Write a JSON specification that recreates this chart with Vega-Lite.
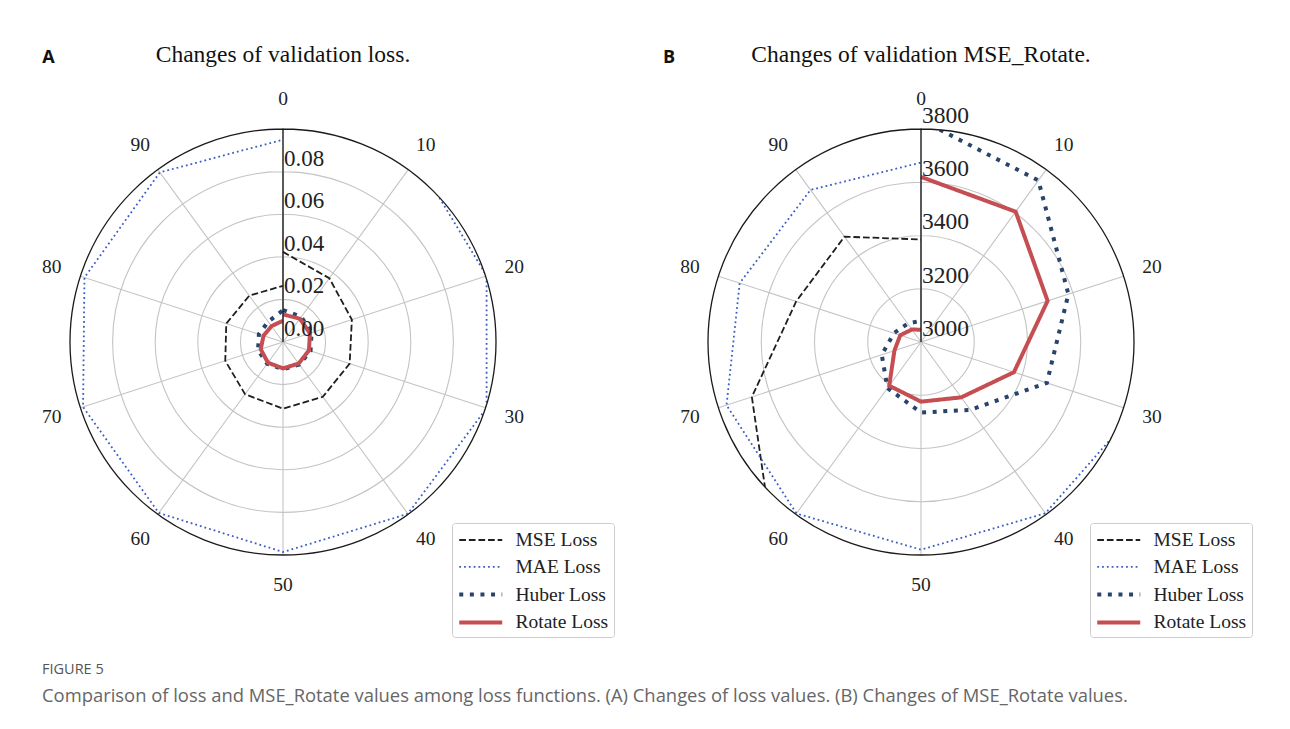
{
  "$schema": "https://vega.github.io/schema/vega-lite/v6.json",
  "background": "white",
  "padding": {"left": 3, "top": 43, "right": 5, "bottom": 5},
  "bounds": "flush",
  "spacing": 78,
  "config": {"view": {"stroke": null}},
  "title": {
    "text": "FIGURE 5",
    "subtitle": "Comparison of loss and MSE_Rotate values among loss functions. (A) Changes of loss values. (B) Changes of MSE_Rotate values.",
    "orient": "bottom", "anchor": "start", "dx": 39, "offset": 25,
    "font": "Open Sans", "fontSize": 14.5, "fontWeight": "normal", "color": "#555555",
    "subtitleFont": "Open Sans", "subtitleFontSize": 18.4, "subtitleColor": "#666666", "subtitlePadding": 10
  },
  "resolve": {"scale": {"color": "independent", "strokeDash": "independent", "strokeWidth": "independent", "radius": "independent", "theta": "independent"}},
  "datasets": {
    "lossA": [
      {"series": "MSE Loss", "epoch": 0, "value": 0.0423},
      {"series": "MSE Loss", "epoch": 10, "value": 0.0370},
      {"series": "MSE Loss", "epoch": 20, "value": 0.0340},
      {"series": "MSE Loss", "epoch": 30, "value": 0.0329},
      {"series": "MSE Loss", "epoch": 40, "value": 0.0318},
      {"series": "MSE Loss", "epoch": 50, "value": 0.0313},
      {"series": "MSE Loss", "epoch": 60, "value": 0.0303},
      {"series": "MSE Loss", "epoch": 70, "value": 0.0285},
      {"series": "MSE Loss", "epoch": 80, "value": 0.0280},
      {"series": "MSE Loss", "epoch": 90, "value": 0.0269},
      {"series": "MSE Loss", "epoch": 100, "value": 0.0264},
      {"series": "MAE Loss", "epoch": 0, "value": 0.115},
      {"series": "MAE Loss", "epoch": 10, "value": 0.1062},
      {"series": "MAE Loss", "epoch": 20, "value": 0.1005},
      {"series": "MAE Loss", "epoch": 30, "value": 0.1005},
      {"series": "MAE Loss", "epoch": 40, "value": 0.0997},
      {"series": "MAE Loss", "epoch": 50, "value": 0.0986},
      {"series": "MAE Loss", "epoch": 60, "value": 0.0992},
      {"series": "MAE Loss", "epoch": 70, "value": 0.0987},
      {"series": "MAE Loss", "epoch": 80, "value": 0.0980},
      {"series": "MAE Loss", "epoch": 90, "value": 0.0984},
      {"series": "MAE Loss", "epoch": 100, "value": 0.0950},
      {"series": "Huber Loss", "epoch": 0, "value": 0.0150},
      {"series": "Huber Loss", "epoch": 10, "value": 0.0146},
      {"series": "Huber Loss", "epoch": 20, "value": 0.0141},
      {"series": "Huber Loss", "epoch": 30, "value": 0.0136},
      {"series": "Huber Loss", "epoch": 40, "value": 0.0131},
      {"series": "Huber Loss", "epoch": 50, "value": 0.0128},
      {"series": "Huber Loss", "epoch": 60, "value": 0.0126},
      {"series": "Huber Loss", "epoch": 70, "value": 0.0123},
      {"series": "Huber Loss", "epoch": 80, "value": 0.0119},
      {"series": "Huber Loss", "epoch": 90, "value": 0.0118},
      {"series": "Huber Loss", "epoch": 100, "value": 0.0149},
      {"series": "Rotate Loss", "epoch": 0, "value": 0.0130},
      {"series": "Rotate Loss", "epoch": 10, "value": 0.0135},
      {"series": "Rotate Loss", "epoch": 20, "value": 0.0133},
      {"series": "Rotate Loss", "epoch": 30, "value": 0.0128},
      {"series": "Rotate Loss", "epoch": 40, "value": 0.0125},
      {"series": "Rotate Loss", "epoch": 50, "value": 0.0124},
      {"series": "Rotate Loss", "epoch": 60, "value": 0.0120},
      {"series": "Rotate Loss", "epoch": 70, "value": 0.0110},
      {"series": "Rotate Loss", "epoch": 80, "value": 0.0096},
      {"series": "Rotate Loss", "epoch": 90, "value": 0.0092},
      {"series": "Rotate Loss", "epoch": 100, "value": 0.0100}
    ],
    "lossB": [
      {"series": "MSE Loss", "epoch": 0, "value": 4000},
      {"series": "MSE Loss", "epoch": 10, "value": 4000},
      {"series": "MSE Loss", "epoch": 20, "value": 4000},
      {"series": "MSE Loss", "epoch": 30, "value": 3990},
      {"series": "MSE Loss", "epoch": 40, "value": 3975},
      {"series": "MSE Loss", "epoch": 50, "value": 3960},
      {"series": "MSE Loss", "epoch": 60, "value": 3943},
      {"series": "MSE Loss", "epoch": 70, "value": 3668},
      {"series": "MSE Loss", "epoch": 80, "value": 3493},
      {"series": "MSE Loss", "epoch": 90, "value": 3489},
      {"series": "MSE Loss", "epoch": 100, "value": 3385},
      {"series": "MAE Loss", "epoch": 0, "value": 3950},
      {"series": "MAE Loss", "epoch": 10, "value": 3930},
      {"series": "MAE Loss", "epoch": 20, "value": 3900},
      {"series": "MAE Loss", "epoch": 30, "value": 3845},
      {"series": "MAE Loss", "epoch": 40, "value": 3795},
      {"series": "MAE Loss", "epoch": 50, "value": 3780},
      {"series": "MAE Loss", "epoch": 60, "value": 3796},
      {"series": "MAE Loss", "epoch": 70, "value": 3768},
      {"series": "MAE Loss", "epoch": 80, "value": 3716},
      {"series": "MAE Loss", "epoch": 90, "value": 3706},
      {"series": "MAE Loss", "epoch": 100, "value": 3674},
      {"series": "Huber Loss", "epoch": 0, "value": 3834},
      {"series": "Huber Loss", "epoch": 10, "value": 3750},
      {"series": "Huber Loss", "epoch": 20, "value": 3582},
      {"series": "Huber Loss", "epoch": 30, "value": 3497},
      {"series": "Huber Loss", "epoch": 40, "value": 3315},
      {"series": "Huber Loss", "epoch": 50, "value": 3265},
      {"series": "Huber Loss", "epoch": 60, "value": 3214},
      {"series": "Huber Loss", "epoch": 70, "value": 3155},
      {"series": "Huber Loss", "epoch": 80, "value": 3107},
      {"series": "Huber Loss", "epoch": 90, "value": 3085},
      {"series": "Huber Loss", "epoch": 100, "value": 3080},
      {"series": "Rotate Loss", "epoch": 0, "value": 3620},
      {"series": "Rotate Loss", "epoch": 10, "value": 3605},
      {"series": "Rotate Loss", "epoch": 20, "value": 3500},
      {"series": "Rotate Loss", "epoch": 30, "value": 3367},
      {"series": "Rotate Loss", "epoch": 40, "value": 3257},
      {"series": "Rotate Loss", "epoch": 50, "value": 3224},
      {"series": "Rotate Loss", "epoch": 60, "value": 3203},
      {"series": "Rotate Loss", "epoch": 70, "value": 3105},
      {"series": "Rotate Loss", "epoch": 80, "value": 3082},
      {"series": "Rotate Loss", "epoch": 90, "value": 3058},
      {"series": "Rotate Loss", "epoch": 100, "value": 3046}
    ],
    "thetaLabels": [
      {"e": 0, "t": "0"}, {"e": 10, "t": "10"}, {"e": 20, "t": "20"}, {"e": 30, "t": "30"}, {"e": 40, "t": "40"},
      {"e": 50, "t": "50"}, {"e": 60, "t": "60"}, {"e": 70, "t": "70"}, {"e": 80, "t": "80"}, {"e": 90, "t": "90"}
    ]
  },
  "hconcat": [
    {
      "width": 560, "height": 560,
      "title": {"text": "Changes of validation loss.", "font": "Liberation Serif", "fontSize": 23.5, "fontWeight": "normal", "color": "#111111", "anchor": "middle", "baseline": "alphabetic", "offset": -36.3},
      "layer": [
        {
          "data": {"values": [{"r": 0.02}, {"r": 0.04}, {"r": 0.06}, {"r": 0.08}]},
          "mark": {"type": "arc", "filled": false, "stroke": "#c4c4c4", "strokeWidth": 1.1},
          "encoding": {
            "theta": {"datum": 0, "type": "quantitative", "stack": null, "scale": {"type": "linear", "domain": [0, 100], "range": [0, 6.283185307]}},
            "theta2": {"datum": 100},
            "radius": {"field": "r", "type": "quantitative", "stack": null, "scale": {"type": "linear", "domain": [0, 0.131455], "range": [0, 280], "zero": true}}
          }
        },
        {
          "data": {"name": "thetaLabels"},
          "mark": {"type": "arc", "filled": false, "stroke": "#c4c4c4", "strokeWidth": 1.1},
          "encoding": {
            "theta": {"field": "e", "type": "quantitative", "stack": null, "scale": {"type": "linear", "domain": [0, 100], "range": [0, 6.283185307]}},
            "theta2": {"field": "e"},
            "radius": {"datum": 0.1, "type": "quantitative", "stack": null, "scale": {"type": "linear", "domain": [0, 0.131455], "range": [0, 280], "zero": true}}
          }
        },
        {
          "data": {"name": "lossA"},
          "transform": [
            {"calculate": "datum.value*sin(datum.epoch/100*2*PI)", "as": "px"},
            {"calculate": "datum.value*cos(datum.epoch/100*2*PI)", "as": "py"}
          ],
          "mark": {"type": "line", "strokeCap": "butt"},
          "encoding": {
            "x": {"field": "px", "type": "quantitative", "scale": {"domain": [-0.131455, 0.131455], "nice": false, "zero": false}, "axis": null},
            "y": {"field": "py", "type": "quantitative", "scale": {"domain": [-0.131455, 0.131455], "nice": false, "zero": false}, "axis": null},
            "order": {"field": "epoch", "type": "quantitative"},
            "color": {
              "field": "series", "type": "nominal",
              "scale": {"domain": ["MSE Loss", "MAE Loss", "Huber Loss", "Rotate Loss"], "range": ["#1f1f1f", "#3a5ec4", "#28446b", "#c44e52"]},
              "legend": {"orient": "none", "legendX": 449, "legendY": 461, "title": null, "symbolType": "M-1,0H3", "symbolSize": 462, "labelFont": "Liberation Serif", "labelFontSize": 19.5, "labelColor": "#222222", "labelOffset": 32.5, "strokeColor": "#cccccc", "fillColor": "white", "cornerRadius": 3, "padding": 5, "rowPadding": 4.8}
            },
            "strokeDash": {
              "field": "series", "type": "nominal",
              "scale": {"domain": ["MSE Loss", "MAE Loss", "Huber Loss", "Rotate Loss"], "range": [[6.7, 2.9], [1.8, 3], [4, 6.6], [1, 0]]}
            },
            "strokeWidth": {
              "field": "series", "type": "nominal",
              "scale": {"type": "ordinal", "domain": ["MSE Loss", "MAE Loss", "Huber Loss", "Rotate Loss"], "range": [1.8, 1.8, 4, 4]}
            }
          }
        },
        {
          "data": {"values": [{"m": 1}]},
          "mark": {"type": "arc", "fill": "white"},
          "encoding": {
            "theta": {"datum": 0, "type": "quantitative", "stack": null, "scale": {"type": "linear", "domain": [0, 100], "range": [0, 6.283185307]}},
            "theta2": {"datum": 100},
            "radius": {"datum": 0.13, "type": "quantitative", "stack": null, "scale": {"type": "linear", "domain": [0, 0.131455], "range": [0, 280], "zero": true}},
            "radius2": {"datum": 0.1}
          }
        },
        {
          "data": {"values": [{"r": 0.1}]},
          "mark": {"type": "arc", "filled": false, "stroke": "#1a1a1a", "strokeWidth": 1.3},
          "encoding": {
            "theta": {"datum": 0, "type": "quantitative", "stack": null, "scale": {"type": "linear", "domain": [0, 100], "range": [0, 6.283185307]}},
            "theta2": {"datum": 100},
            "radius": {"field": "r", "type": "quantitative", "stack": null, "scale": {"type": "linear", "domain": [0, 0.131455], "range": [0, 280], "zero": true}}
          }
        },
        {
          "data": {"name": "thetaLabels"},
          "mark": {"type": "text", "font": "Liberation Serif", "fontSize": 19.5, "color": "#222222", "align": "center", "baseline": "middle"},
          "encoding": {
            "theta": {"field": "e", "type": "quantitative", "stack": null, "scale": {"type": "linear", "domain": [0, 100], "range": [0, 6.283185307]}},
            "radius": {"datum": 0.1141, "type": "quantitative", "stack": null, "scale": {"type": "linear", "domain": [0, 0.131455], "range": [0, 280], "zero": true}},
            "text": {"field": "t"}
          }
        },
        {
          "data": {"values": [{"v": 0, "t": "0.00"}, {"v": 0.02, "t": "0.02"}, {"v": 0.04, "t": "0.04"}, {"v": 0.06, "t": "0.06"}, {"v": 0.08, "t": "0.08"}]},
          "mark": {"type": "text", "font": "Liberation Serif", "fontSize": 23, "color": "#222222", "align": "left", "baseline": "alphabetic", "dx": 1, "dy": -6},
          "encoding": {
            "theta": {"datum": 0, "type": "quantitative", "stack": null, "scale": {"type": "linear", "domain": [0, 100], "range": [0, 6.283185307]}},
            "radius": {"field": "v", "type": "quantitative", "stack": null, "scale": {"type": "linear", "domain": [0, 0.131455], "range": [0, 280], "zero": true}},
            "text": {"field": "t"}
          }
        },
        {
          "data": {"values": [{"label": "A"}]},
          "mark": {"type": "text", "font": "Open Sans", "fontWeight": "bold", "fontSize": 18, "color": "#111111", "align": "left", "baseline": "alphabetic"},
          "encoding": {
            "x": {"datum": -0.113, "type": "quantitative"},
            "y": {"datum": 0.1308, "type": "quantitative"},
            "text": {"field": "label"}
          }
        }
      ]
    },
    {
      "width": 560, "height": 560,
      "title": {"text": "Changes of validation MSE_Rotate.", "font": "Liberation Serif", "fontSize": 23.5, "fontWeight": "normal", "color": "#111111", "anchor": "middle", "baseline": "alphabetic", "offset": -36.3},
      "layer": [
        {
          "data": {"values": [{"r": 3200}, {"r": 3400}, {"r": 3600}]},
          "mark": {"type": "arc", "filled": false, "stroke": "#c4c4c4", "strokeWidth": 1.1},
          "encoding": {
            "theta": {"datum": 0, "type": "quantitative", "stack": null, "scale": {"type": "linear", "domain": [0, 100], "range": [0, 6.283185307]}},
            "theta2": {"datum": 100},
            "radius": {"field": "r", "type": "quantitative", "stack": null, "scale": {"type": "linear", "domain": [3000, 4051.64], "range": [0, 280], "zero": false}}
          }
        },
        {
          "data": {"name": "thetaLabels"},
          "mark": {"type": "arc", "filled": false, "stroke": "#c4c4c4", "strokeWidth": 1.1},
          "encoding": {
            "theta": {"field": "e", "type": "quantitative", "stack": null, "scale": {"type": "linear", "domain": [0, 100], "range": [0, 6.283185307]}},
            "theta2": {"field": "e"},
            "radius": {"datum": 3800, "type": "quantitative", "stack": null, "scale": {"type": "linear", "domain": [3000, 4051.64], "range": [0, 280], "zero": false}}
          }
        },
        {
          "data": {"name": "lossB"},
          "transform": [
            {"calculate": "(datum.value-3000)*sin(datum.epoch/100*2*PI)", "as": "px"},
            {"calculate": "(datum.value-3000)*cos(datum.epoch/100*2*PI)", "as": "py"}
          ],
          "mark": {"type": "line", "strokeCap": "butt"},
          "encoding": {
            "x": {"field": "px", "type": "quantitative", "scale": {"domain": [-1051.64, 1051.64], "nice": false, "zero": false}, "axis": null},
            "y": {"field": "py", "type": "quantitative", "scale": {"domain": [-1051.64, 1051.64], "nice": false, "zero": false}, "axis": null},
            "order": {"field": "epoch", "type": "quantitative"},
            "color": {
              "field": "series", "type": "nominal",
              "scale": {"domain": ["MSE Loss", "MAE Loss", "Huber Loss", "Rotate Loss"], "range": ["#1f1f1f", "#3a5ec4", "#28446b", "#c44e52"]},
              "legend": {"orient": "none", "legendX": 449, "legendY": 461, "title": null, "symbolType": "M-1,0H3", "symbolSize": 462, "labelFont": "Liberation Serif", "labelFontSize": 19.5, "labelColor": "#222222", "labelOffset": 32.5, "strokeColor": "#cccccc", "fillColor": "white", "cornerRadius": 3, "padding": 5, "rowPadding": 4.8}
            },
            "strokeDash": {
              "field": "series", "type": "nominal",
              "scale": {"domain": ["MSE Loss", "MAE Loss", "Huber Loss", "Rotate Loss"], "range": [[6.7, 2.9], [1.8, 3], [4, 6.6], [1, 0]]}
            },
            "strokeWidth": {
              "field": "series", "type": "nominal",
              "scale": {"type": "ordinal", "domain": ["MSE Loss", "MAE Loss", "Huber Loss", "Rotate Loss"], "range": [1.8, 1.8, 4, 4]}
            }
          }
        },
        {
          "data": {"values": [{"m": 1}]},
          "mark": {"type": "arc", "fill": "white"},
          "encoding": {
            "theta": {"datum": 0, "type": "quantitative", "stack": null, "scale": {"type": "linear", "domain": [0, 100], "range": [0, 6.283185307]}},
            "theta2": {"datum": 100},
            "radius": {"datum": 4040, "type": "quantitative", "stack": null, "scale": {"type": "linear", "domain": [3000, 4051.64], "range": [0, 280], "zero": false}},
            "radius2": {"datum": 3800}
          }
        },
        {
          "data": {"values": [{"r": 3800}]},
          "mark": {"type": "arc", "filled": false, "stroke": "#1a1a1a", "strokeWidth": 1.3},
          "encoding": {
            "theta": {"datum": 0, "type": "quantitative", "stack": null, "scale": {"type": "linear", "domain": [0, 100], "range": [0, 6.283185307]}},
            "theta2": {"datum": 100},
            "radius": {"field": "r", "type": "quantitative", "stack": null, "scale": {"type": "linear", "domain": [3000, 4051.64], "range": [0, 280], "zero": false}}
          }
        },
        {
          "data": {"name": "thetaLabels"},
          "mark": {"type": "text", "font": "Liberation Serif", "fontSize": 19.5, "color": "#222222", "align": "center", "baseline": "middle"},
          "encoding": {
            "theta": {"field": "e", "type": "quantitative", "stack": null, "scale": {"type": "linear", "domain": [0, 100], "range": [0, 6.283185307]}},
            "radius": {"datum": 3912.7, "type": "quantitative", "stack": null, "scale": {"type": "linear", "domain": [3000, 4051.64], "range": [0, 280], "zero": false}},
            "text": {"field": "t"}
          }
        },
        {
          "data": {"values": [{"v": 3000, "t": "3000"}, {"v": 3200, "t": "3200"}, {"v": 3400, "t": "3400"}, {"v": 3600, "t": "3600"}, {"v": 3800, "t": "3800"}]},
          "mark": {"type": "text", "font": "Liberation Serif", "fontSize": 23.5, "color": "#222222", "align": "left", "baseline": "alphabetic", "dx": 1, "dy": -6},
          "encoding": {
            "theta": {"datum": 0, "type": "quantitative", "stack": null, "scale": {"type": "linear", "domain": [0, 100], "range": [0, 6.283185307]}},
            "radius": {"field": "v", "type": "quantitative", "stack": null, "scale": {"type": "linear", "domain": [3000, 4051.64], "range": [0, 280], "zero": false}},
            "text": {"field": "t"}
          }
        },
        {
          "data": {"values": [{"label": "B"}]},
          "mark": {"type": "text", "font": "Open Sans", "fontWeight": "bold", "fontSize": 18, "color": "#111111", "align": "left", "baseline": "alphabetic"},
          "encoding": {
            "x": {"datum": -969, "type": "quantitative"},
            "y": {"datum": 1046.8, "type": "quantitative"},
            "text": {"field": "label"}
          }
        }
      ]
    }
  ]
}
